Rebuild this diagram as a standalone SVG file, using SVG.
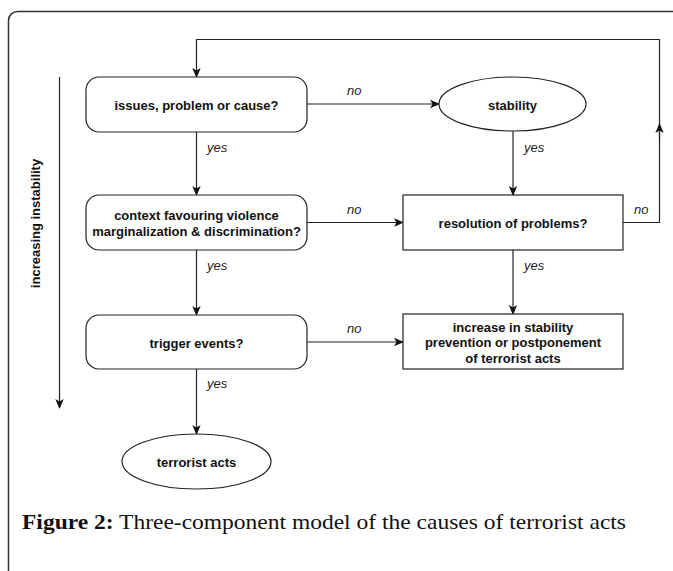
<svg xmlns="http://www.w3.org/2000/svg" width="673" height="571" viewBox="0 0 673 571">
<style>
.n{fill:#fff;stroke:#222;stroke-width:1.2}
.t{font-family:"Liberation Sans",Arial,sans-serif;font-size:13px;font-weight:bold;fill:#111;text-anchor:middle}
.l{font-family:"Liberation Sans",Arial,sans-serif;font-size:13px;font-style:italic;fill:#222}
.c{fill:none;stroke:#222;stroke-width:1.2}
.cap{font-family:"Liberation Serif","Times New Roman",serif;font-size:21px;fill:#111}
</style>
<defs>
<marker id="ah" markerUnits="userSpaceOnUse" markerWidth="10" markerHeight="10" viewBox="0 0 10 10" refX="9" refY="5" orient="auto">
<path d="M0,0.8 L10,5 L0,9.2 L2.5,5 z" fill="#111"/>
</marker>
</defs>
<rect x="8.5" y="11.5" width="720" height="640" rx="9" fill="#fff" stroke="#333" stroke-width="1.5"/>
<g id="connectors">
<path class="c" d="M59.5,77 V408" marker-end="url(#ah)"/>
<path class="c" d="M196.5,132 V195" marker-end="url(#ah)"/>
<path class="c" d="M196.5,250 V315" marker-end="url(#ah)"/>
<path class="c" d="M196.5,369 V434" marker-end="url(#ah)"/>
<path class="c" d="M307,104 H439" marker-end="url(#ah)"/>
<path class="c" d="M307,222.5 H403" marker-end="url(#ah)"/>
<path class="c" d="M307,342 H403" marker-end="url(#ah)"/>
<path class="c" d="M513,131 V195" marker-end="url(#ah)"/>
<path class="c" d="M513,250 V314" marker-end="url(#ah)"/>
<path class="c" d="M623,222.5 H659.5 V39.5 H196.5 V77" marker-end="url(#ah)"/>
<path class="c" d="M659.5,140 V124" marker-end="url(#ah)"/>
<text class="l" x="347" y="95">no</text>
<text class="l" x="347" y="214">no</text>
<text class="l" x="347" y="333">no</text>
<text class="l" x="634" y="214">no</text>
<text class="l" x="207" y="152">yes</text>
<text class="l" x="207" y="270">yes</text>
<text class="l" x="207" y="388">yes</text>
<text class="l" x="524" y="152">yes</text>
<text class="l" x="524" y="270">yes</text>
<text class="t" transform="translate(39.5,223.5) rotate(-90)">increasing instability</text>
</g>
<g id="issues">
<rect class="n" x="86" y="77" width="221" height="55" rx="13"/>
<text class="t" x="196.5" y="110">issues, problem or cause?</text>
</g>
<g id="context">
<rect class="n" x="86" y="195" width="221" height="55" rx="13"/>
<text class="t" x="196.5" y="219.5">context favouring violence</text>
<text class="t" x="196.5" y="235.5">marginalization &amp; discrimination?</text>
</g>
<g id="trigger">
<rect class="n" x="86" y="315" width="221" height="54" rx="13"/>
<text class="t" x="196.5" y="347.5">trigger events?</text>
</g>
<g id="terrorist">
<ellipse class="n" cx="196.5" cy="461.5" rx="74.5" ry="27.5"/>
<text class="t" x="196.5" y="467">terrorist acts</text>
</g>
<g id="stability">
<ellipse class="n" cx="512.5" cy="104" rx="73.5" ry="27"/>
<text class="t" x="512.5" y="110">stability</text>
</g>
<g id="resolution">
<rect class="n" x="403" y="195" width="220" height="55"/>
<text class="t" x="513" y="228">resolution of problems?</text>
</g>
<g id="increase">
<rect class="n" x="403" y="314" width="220" height="55"/>
<text class="t" x="513" y="331.5">increase in stability</text>
<text class="t" x="513" y="347">prevention or postponement</text>
<text class="t" x="513" y="362.5">of terrorist acts</text>
</g>
<text class="cap" x="22" y="529" textLength="604" lengthAdjust="spacingAndGlyphs"><tspan font-weight="bold">Figure 2:</tspan> Three-component model of the causes of terrorist acts</text>
</svg>
